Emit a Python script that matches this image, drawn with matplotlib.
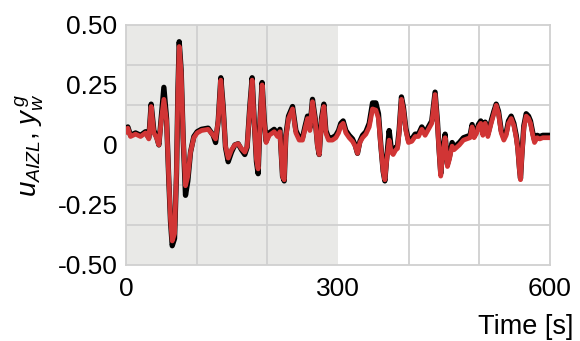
import numpy as np
import matplotlib
matplotlib.use('Agg')
import matplotlib.pyplot as plt

plt.rcParams['font.family'] = ['Liberation Sans', 'DejaVu Sans']
plt.rcParams['axes.unicode_minus'] = False
plt.rcParams['mathtext.fontset'] = 'custom'
plt.rcParams['mathtext.it'] = 'Liberation Sans:italic'
plt.rcParams['mathtext.rm'] = 'Liberation Sans'

# time [s]
time_s = [
    0, 2.8, 6.6, 13.7, 20.8, 27.8, 32.5, 35.8, 39.6, 43.4, 46.7, 50, 53.8,
    57.6, 60.8, 63.2, 65.6, 68.9, 71.7, 73.6, 75.5, 78.3, 81.1, 84.4, 87.7,
    91.5, 96.2, 100.9, 107, 116.5, 123.6, 127, 130.7, 134.4, 137.7, 141,
    144.8, 149.5, 154.2, 158.9, 163.6, 168.3, 171.6, 175.4, 178.7, 181.5,
    184.8, 187.2, 190, 192.8, 195.7, 198.5, 202.8, 209.9, 214.6, 218, 221.7,
    224.1, 226.4, 230.2, 235.9, 240.6, 245.3, 250, 253.8, 257.1, 260.4,
    264.1, 267.9, 271.2, 273.6, 276.9, 280.2, 283, 286.8, 292.4, 297.2,
    301, 304.2, 307.5, 311.3, 316, 320.7, 324.5, 327.8, 331.2, 335, 339.7,
    344.4, 349.1, 353.8, 357.5, 360.8, 364.1, 366.5, 369.3, 372.6, 375.4,
    378.3, 382, 384.4, 386.7, 390, 392.9, 396.2, 399.9, 404.7, 409.4,
    414.1, 418.8, 423.5, 428.2, 432.9, 437.6, 440.9, 443.3, 445.6, 448.5,
    451.8, 455.1, 457.9, 461.7, 464.5, 468.3, 472, 477.7, 482.4, 487.1,
    490, 492.8, 496.6, 498.9, 502.2, 505.2, 508.5, 512.3, 517, 520.8,
    524.1, 527.4, 531.2, 534.9, 538.2, 541.5, 545.3, 549.1, 552.4, 554.7,
    557.1, 558.5, 560.4, 563.2, 566.5, 569.8, 572.6, 575.9, 578.3, 582.1,
    585.8, 590.1, 594.8, 598.1, 600,
]

# y_w^g (red)
y_ref = [
    0.055, 0.07, 0.035, 0.045, 0.035, 0.05, 0.025, 0.16, 0.05, 0.03, 0.0,
    0.10, 0.19, 0.10, -0.146, -0.31, -0.40, -0.37, -0.11, 0.21, 0.41, 0.30,
    0.03, -0.17, -0.13, -0.03, 0.03, 0.05, 0.06, 0.065, 0.04, 0.025, 0.10,
    0.27, 0.15, -0.005, -0.055, -0.02, 0.0, 0.005, -0.015, -0.03, -0.005,
    0.15, 0.27, 0.10, -0.06, -0.10, 0.10, 0.25, 0.10, 0.01, 0.04, 0.055,
    0.035, 0.055, -0.13, -0.145, 0.03, 0.11, 0.15, 0.05, 0.02, 0.02, 0.07,
    0.11, 0.06, 0.18, 0.10, -0.005, -0.04, 0.10, 0.16, 0.05, 0.02, 0.02,
    0.03, 0.05, 0.08, 0.09, 0.05, 0.03, 0.015, -0.005, -0.035, 0.01, 0.03,
    0.045, 0.075, 0.15, 0.145, 0.11, -0.005, -0.11, -0.145, -0.06, 0.02,
    -0.03, -0.04, -0.02, -0.015, 0.05, 0.19, 0.145, 0.06, 0.01, 0.015,
    0.035, 0.035, 0.065, 0.04, 0.065, 0.09, 0.21, 0.09, -0.03, -0.13,
    -0.03, 0.03, -0.09, -0.06, -0.005, -0.02, -0.01, 0.0, 0.02, 0.025,
    0.03, 0.075, 0.03, 0.05, 0.075, 0.09, 0.04, 0.09, 0.035, 0.09, 0.13,
    0.165, 0.13, 0.05, 0.02, 0.04, 0.09, 0.11, 0.08, 0.03, -0.02, -0.11,
    -0.145, -0.05, 0.07, 0.12, 0.11, 0.09, 0.04, 0.01, 0.03, 0.025, 0.03,
    0.03, 0.03, 0.03,
]

# u_AIZL (black)
u_aizl = [
    0.06, 0.075, 0.04, 0.05, 0.04, 0.055, 0.03, 0.17, 0.06, 0.035, 0.0,
    0.11, 0.24, 0.11, -0.15, -0.32, -0.42, -0.39, -0.12, 0.22, 0.43, 0.31,
    0.03, -0.21, -0.15, -0.03, 0.035, 0.055, 0.065, 0.07, 0.04, 0.01, 0.10,
    0.28, 0.16, -0.01, -0.07, -0.03, 0.0, 0.005, -0.02, -0.04, -0.01,
    0.16, 0.28, 0.11, -0.07, -0.12, 0.11, 0.26, 0.11, 0.015, 0.05, 0.065,
    0.045, 0.065, -0.13, -0.15, 0.04, 0.12, 0.16, 0.06, 0.03, 0.03, 0.08,
    0.12, 0.07, 0.19, 0.11, 0.0, -0.04, 0.11, 0.17, 0.06, 0.03, 0.03,
    0.04, 0.06, 0.09, 0.10, 0.06, 0.04, 0.025, 0.0, -0.035, 0.015, 0.04,
    0.055, 0.09, 0.175, 0.175, 0.13, 0.0, -0.11, -0.15, -0.05, 0.06,
    -0.01, -0.03, -0.01, -0.005, 0.06, 0.20, 0.155, 0.07, 0.02, 0.025,
    0.045, 0.045, 0.075, 0.05, 0.075, 0.10, 0.22, 0.10, -0.02, -0.12,
    -0.02, 0.045, -0.08, -0.05, 0.01, -0.01, 0.0, 0.01, 0.03, 0.035,
    0.04, 0.085, 0.04, 0.06, 0.085, 0.10, 0.05, 0.095, 0.045, 0.10, 0.14,
    0.17, 0.14, 0.06, 0.03, 0.05, 0.10, 0.12, 0.09, 0.04, -0.01, -0.10,
    -0.14, -0.04, 0.08, 0.13, 0.12, 0.10, 0.05, 0.02, 0.04, 0.035, 0.04,
    0.04, 0.04, 0.04,
]

y_ticks = [-0.5, -0.25, 0, 0.25, 0.5]
y_tick_labels = ['-0.50', '-0.25', '0', '0.25', '0.50']
x_ticks = [0, 300, 600]

fig = plt.figure(figsize=(5.8, 3.41), dpi=100)
ax = fig.add_axes([0.217, 0.223, 0.731, 0.704])

grid_c = '#d0d0d0'
ax.axvspan(0, 300, color='#e9e9e7', lw=0, zorder=0)
ax.set_xticks(np.arange(0, 601, 100), minor=True)
ax.set_yticks(np.linspace(-0.5, 0.5, 7), minor=True)
ax.grid(which='minor', color=grid_c, lw=1.3, zorder=1)
ax.grid(which='major', visible=False)

ax.plot(time_s, u_aizl, color='black', lw=3.8, solid_joinstyle='round', zorder=3)
ax.plot(time_s, y_ref, color='#d13535', lw=3.4, solid_joinstyle='round', zorder=4)

ax.set_xlim(0, 600)
ax.set_ylim(-0.5, 0.5)
ax.set_xticks(x_ticks)
ax.set_xticklabels([str(x) for x in x_ticks])
ax.set_yticks(y_ticks)
ax.set_yticklabels(y_tick_labels)
ax.tick_params(which='both', length=0, labelsize=19, colors='black')
ax.tick_params(axis='x', pad=9)
ax.tick_params(axis='y', pad=6)
for s in ax.spines.values():
    s.set_color(grid_c)
    s.set_linewidth(1.3)

fig.text(0.988, 0.04, 'Time [s]', ha='right', va='center', fontsize=19.5)
fig.text(0.052, 0.575, r'$u_{AIZL}$, $y_w^{\,g}$', rotation=90,
         ha='center', va='center', fontsize=20)

fig.savefig('out.png', dpi=100)
